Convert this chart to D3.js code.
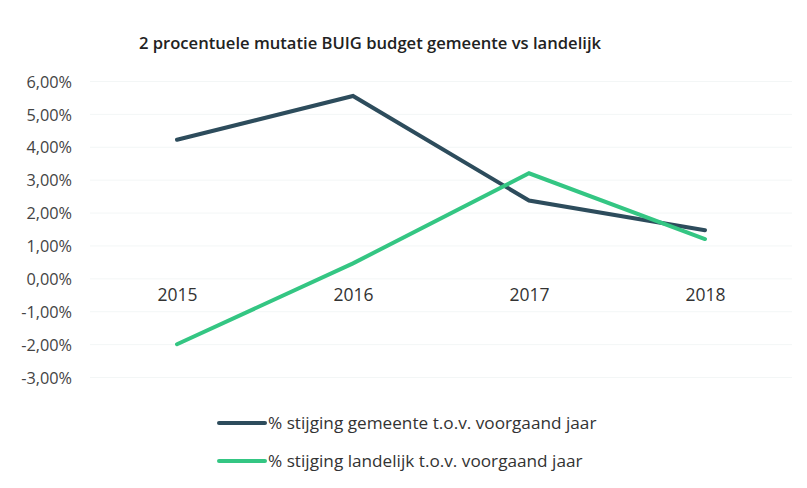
<!DOCTYPE html>
<html><head><meta charset="utf-8">
<script src="https://cdn.jsdelivr.net/npm/d3@7"></script>
<style>body{margin:0;background:#fff}svg{display:block}</style>
</head><body>
<svg id="c" width="807" height="488"></svg>
<script>
const title = "2 procentuele mutatie BUIG budget gemeente vs landelijk";
const years = ["2015","2016","2017","2018"];
const gemeente = [4.23, 5.56, 2.38, 1.48];
const landelijk = [-1.99, 0.47, 3.21, 1.21];
const seriesNames = ["% stijging gemeente t.o.v. voorgaand jaar","% stijging landelijk t.o.v. voorgaand jaar"];
const seriesColors = ["#2d4c5c","#34c683"];
const yTicks = [-3,-2,-1,0,1,2,3,4,5,6];

const svg = d3.select("#c");
const font = "'Open Sans', sans-serif";
const x = d3.scalePoint().domain(years).range([177, 705]);
const y = d3.scaleLinear().domain([-3, 6]).range([377.5, 81.5]);

// gridlines
svg.append("g").selectAll("line").data(yTicks).join("line")
  .attr("x1", 90).attr("x2", 792)
  .attr("y1", d => y(d)).attr("y2", d => y(d))
  .attr("stroke", "#f3f6f6").attr("stroke-width", 1);

// y axis labels
const fmt = v => v.toFixed(2).replace(".", ",") + "%";
const yAxis = d3.axisLeft(y).tickValues(yTicks).tickFormat(fmt).tickSize(0).tickPadding(0);
const yg = svg.append("g").attr("transform", "translate(72,0)").call(yAxis);
yg.select(".domain").remove();
yg.selectAll("text").attr("font-family", font).attr("font-size", 16.3).attr("fill", "#444").attr("dy", "0.35em");

// x labels (on zero line, below)
const xAxis = d3.axisBottom(x).tickSize(0).tickPadding(0);
const xg = svg.append("g").attr("transform", `translate(0,${y(0)})`).call(xAxis);
xg.select(".domain").remove();
xg.selectAll("text").attr("font-family", font).attr("font-size", 17.5).attr("fill", "#333").attr("dy", "1.25em");

// lines
const line = d3.line().x((d,i) => x(years[i])).y(d => y(d));
[gemeente, landelijk].forEach((s, k) => {
  svg.append("path").datum(s).attr("d", line)
    .attr("fill", "none").attr("stroke", seriesColors[k])
    .attr("stroke-width", 4).attr("stroke-linejoin", "miter").attr("stroke-linecap", "round");
});

// title
svg.append("text").attr("x", 370).attr("y", 49).attr("text-anchor", "middle")
  .attr("font-family", font).attr("font-weight", 600).attr("font-size", 16.6).attr("fill", "#222")
  .text(title);

// legend
const lg = svg.append("g");
seriesNames.forEach((n, k) => {
  const yy = 423 + k * 38;
  lg.append("line").attr("x1", 219).attr("x2", 265).attr("y1", yy).attr("y2", yy)
    .attr("stroke", seriesColors[k]).attr("stroke-width", 4).attr("stroke-linecap", "round");
  lg.append("text").attr("x", 268).attr("y", yy).attr("dy", "0.35em")
    .attr("font-family", font).attr("font-size", 17.2).attr("fill", "#333").text(n);
});
</script>
</body></html>
